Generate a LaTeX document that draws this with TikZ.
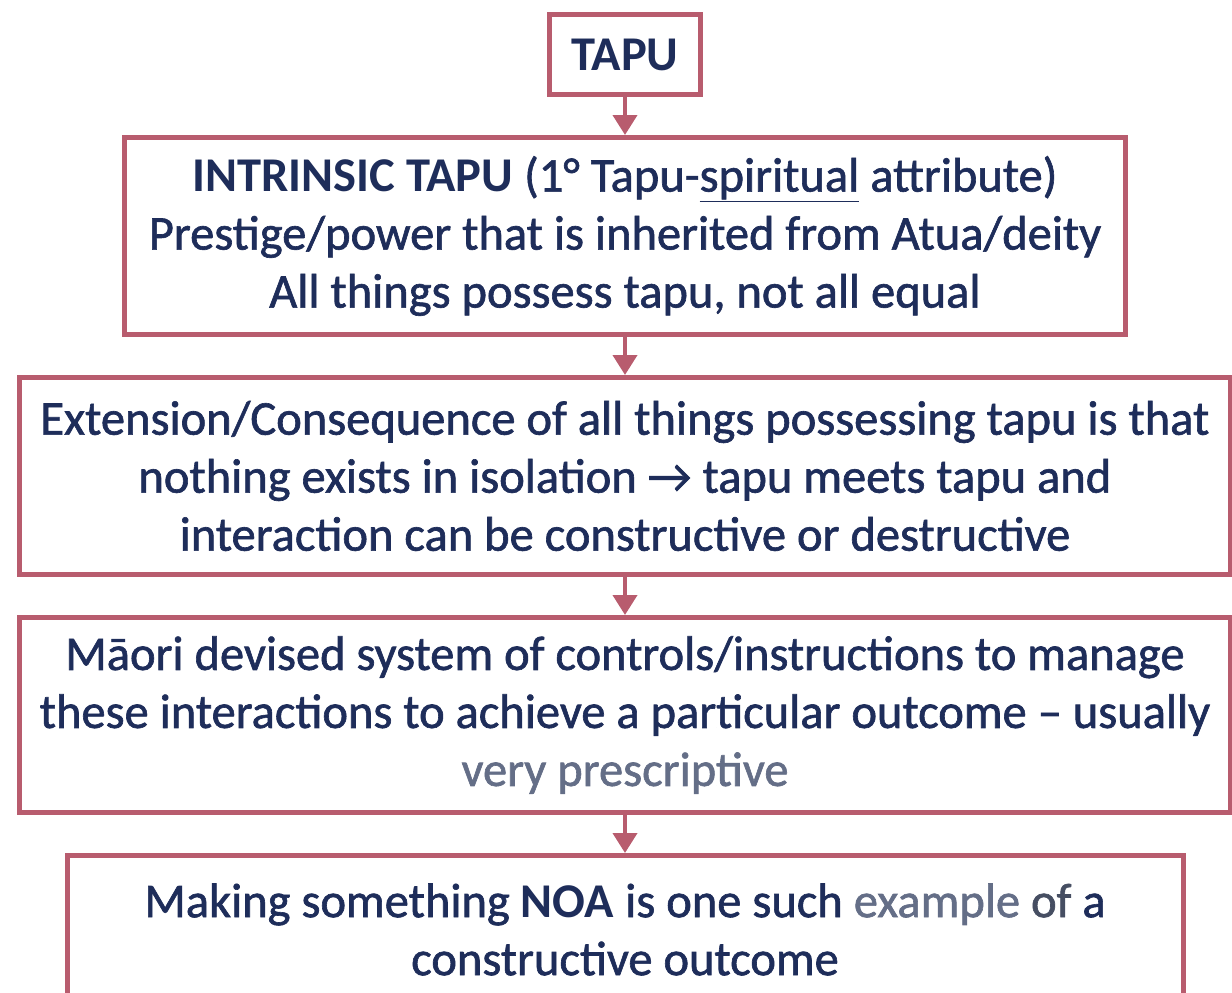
\documentclass[tikz,border=0pt]{standalone}
\usepackage{fontspec}
\setmainfont{Carlito}[UprightFeatures={FakeBold=1.3}]
\usetikzlibrary{arrows.meta, positioning}

\definecolor{boxred}{RGB}{184,92,110}
\definecolor{inkblue}{RGB}{30,45,90}
\definecolor{fadeblue}{RGB}{100,110,135}
\definecolor{midgrey}{RGB}{70,78,98}

\begin{document}
\begin{tikzpicture}[>={Triangle[width=24pt,length=20pt]}, node distance=38pt,
    stage/.style={draw=boxred, line width=5pt, fill=white, align=center, text=inkblue,
        font=\fontsize{48.5}{58}\selectfont, inner sep=0pt}]
    \useasboundingbox (0,0) rectangle (1232pt,-993pt);

    % Top label
    \node[stage, minimum width=151pt, minimum height=80pt] (tapu) at (625pt,-54.5pt) {\textbf{TAPU}};

    % Chain of explanation boxes
    \node[stage, minimum width=1001pt, minimum height=197pt, below=of tapu] (intrinsic)
        {\textbf{INTRINSIC TAPU} (1° Tapu-\underline{spiritual} attribute)\\
         Prestige/power that is inherited from Atua/deity\\
         All things possess tapu, not all equal};
    \node[stage, minimum width=1211pt, minimum height=197pt, below=of intrinsic] (extension)
        {Extension/Consequence of all things possessing tapu is that\\
         nothing exists in isolation → tapu meets tapu and\\
         interaction can be constructive or destructive};
    \node[stage, minimum width=1211pt, minimum height=195pt, below=of extension] (controls)
        {Māori devised system of controls/instructions to manage\\
         these interactions to achieve a particular outcome – usually\\
         \textcolor{fadeblue}{very prescriptive}};
    \node[stage, minimum width=1116pt, minimum height=148pt, below=of controls] (noa)
        {Making something \textbf{NOA} is one such \textcolor{fadeblue}{example} \textcolor{midgrey}{of} a\\
         constructive outcome};

    % Arrows
    \foreach \i/\j in {tapu/intrinsic, intrinsic/extension, extension/controls, controls/noa}
        \draw[->, draw=boxred, fill=boxred, line width=4pt] (\i) -- (\j);

\end{tikzpicture}
\end{document}
